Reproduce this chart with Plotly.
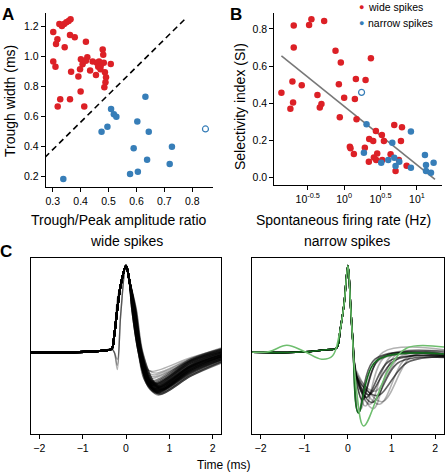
import numpy as np
import plotly.graph_objects as go

# ---------------- Panel A data ----------------
A_WIDE_RATIO = [0.302, 0.324, 0.333, 0.341, 0.349, 0.357, 0.364, 0.317, 0.312, 0.362, 0.379, 0.343,
                0.419, 0.302, 0.310, 0.366, 0.392, 0.401, 0.407, 0.398, 0.424, 0.419, 0.434, 0.443,
                0.458, 0.466, 0.463, 0.455, 0.471, 0.479, 0.481, 0.483, 0.487, 0.491, 0.489, 0.485,
                0.508, 0.472, 0.400, 0.327, 0.362, 0.318, 0.413]
A_WIDE_WIDTH = [1.164, 1.218, 1.205, 1.218, 1.229, 1.238, 1.249, 1.116, 1.084, 1.144, 1.129, 1.062,
                1.100, 0.967, 0.933, 0.900, 0.867, 0.982, 0.949, 0.916, 0.996, 0.973, 0.907, 0.967,
                0.960, 0.967, 0.933, 0.878, 0.916, 1.047, 1.013, 0.960, 0.896, 0.862, 0.829, 0.796,
                0.951, 0.940, 0.767, 0.716, 0.716, 0.667, 0.667]
A_NARROW_RATIO = [0.509, 0.519, 0.528, 0.496, 0.475, 0.603, 0.644, 0.632, 0.590, 0.727, 0.638,
                  0.719, 0.605, 0.577, 0.338]
A_NARROW_WIDTH = [0.651, 0.616, 0.600, 0.533, 0.500, 0.567, 0.500, 0.733, 0.389, 0.400, 0.313,
                  0.284, 0.233, 0.218, 0.184]
A_OPEN_RATIO = [0.847]
A_OPEN_WIDTH = [0.518]
A_DIVIDER_X = [0.272, 0.774]
A_DIVIDER_Y = [0.328, 1.251]

# ---------------- Panel B data ----------------
B_WIDE_LOGRATE = [-0.862, -0.739, -0.702, -0.711, -0.583, -0.693, -0.693, -0.482, -0.450, -0.275,
                  -0.367, -0.312, -0.335, -0.119, -0.046, -0.073, 0.000, -0.060, 0.161, 0.147,
                  0.170, 0.294, 0.367, 0.078, 0.087, 0.133, 0.284, 0.344, 0.399, 0.436, 0.518,
                  0.546, 0.339, 0.408, 0.454, 0.440, 0.523, 0.638, 0.688, 0.706, 0.794, 0.780,
                  0.752, 0.858]
B_WIDE_SI = [0.457, 0.371, 0.404, 0.517, 0.497, 0.700, 0.818, 0.821, 0.852, 0.843,
             0.445, 0.396, 0.377, 0.683, 0.619, 0.502, 0.430, 0.325, 0.531, 0.423,
             0.314, 0.526, 0.642, 0.167, 0.158, 0.127, 0.161, 0.208, 0.197, 0.251, 0.230,
             0.197, 0.086, 0.109, 0.131, 0.095, 0.095, 0.126, 0.283, 0.036, 0.271, 0.197,
             0.095, 0.065]
B_NARROW_LOGRATE = [0.307, 0.271, 0.509, 0.661, 0.688, 0.706, 0.606, 0.757, 0.917, 0.917,
                    1.110, 1.124, 1.124, 1.193, 1.229]
B_NARROW_SI = [0.287, 0.135, 0.081, 0.188, 0.108, 0.063, 0.095, 0.086, 0.248, 0.054,
               0.122, 0.068, 0.036, 0.027, 0.081]
B_OPEN_LOGRATE = [0.239]
B_OPEN_SI = [0.459]
B_FIT_LOGRATE = [-0.862, 1.248]
B_FIT_SI = [0.655, -0.009]

# ---------------- Panel C data (waveform landmarks, ms / normalised amplitude) ----------------
WIDE_TROUGH_T = [0.62, 0.65, 0.68, 0.70, 0.72, 0.74, 0.66, 0.70, 0.75, 0.78, 0.80, 0.68, 0.72, 0.76, 0.64,
                 0.70, 0.73, 0.77, 0.82, 0.69, 0.71, 0.74, 0.67, 0.79, 0.84, 0.63, 0.71, 0.75, 0.70, 0.73]
WIDE_TROUGH_V = [-0.38, -0.42, -0.45, -0.47, -0.44, -0.40, -0.36, -0.43, -0.46, -0.48, -0.42, -0.39, -0.41,
                 -0.44, -0.35, -0.37, -0.45, -0.47, -0.40, -0.43, -0.46, -0.38, -0.41, -0.44, -0.43, -0.33,
                 -0.39, -0.49, -0.42, -0.36]
WIDE_V15 = [-0.12, -0.16, -0.20, -0.24, -0.20, -0.15, -0.10, -0.18, -0.22, -0.27, -0.17, -0.13, -0.16, -0.21,
            -0.09, -0.11, -0.23, -0.25, -0.15, -0.19, -0.22, -0.12, -0.16, -0.20, -0.18, -0.08, -0.14, -0.27,
            -0.17, -0.10]
WIDE_END = [0.00, -0.03, -0.06, -0.09, -0.05, -0.02, 0.02, -0.05, -0.08, -0.12, -0.04, 0.00, -0.03, -0.07,
            0.03, 0.01, -0.08, -0.10, -0.02, -0.05, -0.08, 0.00, -0.03, -0.06, -0.05, 0.04, -0.01, -0.11,
            -0.04, 0.01]
WIDE_ZERO_T = [0.29, 0.30, 0.32, 0.33, 0.34, 0.33, 0.30, 0.32, 0.34, 0.36, 0.35, 0.31, 0.33, 0.35, 0.29,
               0.31, 0.33, 0.35, 0.37, 0.32, 0.33, 0.34, 0.31, 0.36, 0.38, 0.29, 0.32, 0.35, 0.32, 0.33]
WIDE_PRE = [0.50] * 30
WIDE_LIGHT_TROUGH_T = [0.62, 0.66, 0.60, 0.70, 0.64]
WIDE_LIGHT_TROUGH_V = [-0.22, -0.26, -0.30, -0.24, -0.28]
WIDE_LIGHT_V15 = [-0.06, -0.08, -0.10, -0.07, -0.09]
WIDE_LIGHT_END = [0.04, 0.03, 0.02, 0.05, 0.03]
WIDE_LIGHT_ZERO_T = [0.30, 0.31, 0.29, 0.32, 0.30]
WIDE_LIGHT_PRE = [-0.20, -0.15, 0.50, -0.08, 0.62]

NARROW_TROUGH_T = [0.24, 0.28, 0.33, 0.36, 0.40, 0.42, 0.47, 0.50, 0.55, 0.58, 0.62, 0.66, 0.72, 0.78]
NARROW_TROUGH_V = [-0.70, -0.66, -0.55, -0.47, -0.62, -0.52, -0.49, -0.60, -0.58, -0.65, -0.45, -0.50, -0.60, -0.57]
NARROW_MID = [None, None, -0.35, -0.30, -0.35, -0.30, -0.28, -0.30, -0.28, -0.30, -0.25, -0.28, -0.25, -0.22]
NARROW_REC_T = [0.62, 0.70, 0.75, 0.80, 0.85, 0.95, 1.05, 1.00, 1.15, 1.10, 1.20, 1.35, 1.35, 1.45]
NARROW_REC_V = [-0.08, -0.10, -0.06, 0.00, -0.05, -0.10, -0.10, -0.04, -0.12, -0.03, -0.05, -0.12, -0.06, -0.05]
NARROW_END = [-0.02, -0.03, -0.04, 0.03, 0.01, -0.05, -0.04, 0.00, -0.06, -0.02, 0.02, -0.05, -0.03, 0.00]
NARROW_DARK = [True, False, True, False, False, True, True, False, True, False, False, True, False, False]

GREEN_T = [-2.2, -1.8, -1.4, -1.0, -0.6, -0.35, -0.2, -0.09, 0.0, 0.065, 0.2, 0.36, 0.93, 1.35, 2.2]
GREEN_V = [0.0, 0.01, 0.08, 0.01, -0.08, -0.04, 0.2, 0.55, 1.0, 0.5, -0.45, -0.85, -0.2, 0.05, 0.06]
DKGREEN_TROUGH = (0.24, -0.70, 0.65, -0.10, -0.02)

RED = "rgb(220,32,38)"
BLUE = "rgb(55,126,184)"
FONT = "Arial, Liberation Sans, Helvetica, sans-serif"
W, H = 445, 476


def px(x):
    return x / W


def py(y):
    return 1 - y / H


fig = go.Figure()

# ---------------- Panel A ----------------
fig.add_trace(go.Scatter(x=A_DIVIDER_X, y=A_DIVIDER_Y, mode="lines",
                         line=dict(color="black", width=1.6, dash="6px,4px"),
                         xaxis="x", yaxis="y", showlegend=False, hoverinfo="skip"))
fig.add_trace(go.Scatter(x=A_WIDE_RATIO, y=A_WIDE_WIDTH, mode="markers",
                         marker=dict(color=RED, size=6.5), xaxis="x", yaxis="y", showlegend=False))
fig.add_trace(go.Scatter(x=A_NARROW_RATIO, y=A_NARROW_WIDTH, mode="markers",
                         marker=dict(color=BLUE, size=6.5), xaxis="x", yaxis="y", showlegend=False))
fig.add_trace(go.Scatter(x=A_OPEN_RATIO, y=A_OPEN_WIDTH, mode="markers",
                         marker=dict(color=BLUE, size=6, symbol="circle-open", line=dict(width=1.2)),
                         xaxis="x", yaxis="y", showlegend=False))

# ---------------- Panel B ----------------
fig.add_trace(go.Scatter(x=[10 ** v for v in B_FIT_LOGRATE], y=B_FIT_SI, mode="lines",
                         line=dict(color="rgb(120,120,120)", width=1.6),
                         xaxis="x2", yaxis="y2", showlegend=False, hoverinfo="skip"))
fig.add_trace(go.Scatter(x=[10 ** v for v in B_WIDE_LOGRATE], y=B_WIDE_SI, mode="markers",
                         marker=dict(color=RED, size=6.5), xaxis="x2", yaxis="y2", showlegend=False))
fig.add_trace(go.Scatter(x=[10 ** v for v in B_NARROW_LOGRATE], y=B_NARROW_SI, mode="markers",
                         marker=dict(color=BLUE, size=6.5), xaxis="x2", yaxis="y2", showlegend=False))
fig.add_trace(go.Scatter(x=[10 ** v for v in B_OPEN_LOGRATE], y=B_OPEN_SI, mode="markers",
                         marker=dict(color=BLUE, size=6, symbol="circle-open", line=dict(width=1.2)),
                         xaxis="x2", yaxis="y2", showlegend=False))


# ---------------- Panel C ----------------
def wide_knots(tt, tv, v15, ve, pre, tz):
    dip = pre < 0.2
    xs = [-2.2, -1.2, -0.5, -0.33, -0.27, -0.2, -0.12, 0.0, 0.08, tz - 0.15, tz, tt - 0.18, tt, 1.5, 2.2]
    ys = [0.0, 0.0, 0.02, 0.04, 0.0 if dip else 0.2, pre, 0.45 if dip else 0.78, 1.0, 0.82, 0.5, 0.0,
          0.85 * tv, tv, v15, ve]
    return xs, ys


def narrow_knots(tt, tv, mid, rt, rv, ve):
    xs = [-2.2, -1.2, -0.5, -0.26, -0.18, -0.09, 0.0, 0.065, 0.11]
    ys = [0.0, 0.0, 0.03, 0.05, 0.25, 0.55, 1.0, 0.5, 0.15]
    if mid is not None:
        xs.append(0.2)
        ys.append(mid)
    xs += [tt, rt, 2.2]
    ys += [tv, rv, ve]
    return xs, ys


for i in range(len(WIDE_LIGHT_TROUGH_T)):
    xs, ys = wide_knots(WIDE_LIGHT_TROUGH_T[i], WIDE_LIGHT_TROUGH_V[i], WIDE_LIGHT_V15[i],
                        WIDE_LIGHT_END[i], WIDE_LIGHT_PRE[i], WIDE_LIGHT_ZERO_T[i])
    fig.add_trace(go.Scatter(x=xs, y=ys, mode="lines", line=dict(color="rgba(0,0,0,0.3)", width=1.4,
                                                                 shape="spline", smoothing=1.0),
                             xaxis="x3", yaxis="y3", showlegend=False, hoverinfo="skip"))
for i in range(len(WIDE_TROUGH_T)):
    xs, ys = wide_knots(WIDE_TROUGH_T[i], WIDE_TROUGH_V[i], WIDE_V15[i], WIDE_END[i], WIDE_PRE[i],
                        WIDE_ZERO_T[i])
    fig.add_trace(go.Scatter(x=xs, y=ys, mode="lines", line=dict(color="rgba(0,0,0,0.5)", width=2.0,
                                                                 shape="spline", smoothing=1.0),
                             xaxis="x3", yaxis="y3", showlegend=False, hoverinfo="skip"))

for i in range(len(NARROW_TROUGH_T)):
    xs, ys = narrow_knots(NARROW_TROUGH_T[i], NARROW_TROUGH_V[i], NARROW_MID[i], NARROW_REC_T[i],
                          NARROW_REC_V[i], NARROW_END[i])
    col = "rgba(0,0,0,0.62)" if NARROW_DARK[i] else "rgba(0,0,0,0.3)"
    fig.add_trace(go.Scatter(x=xs, y=ys, mode="lines", line=dict(color=col, width=1.6,
                                                                 shape="spline", smoothing=1.0),
                             xaxis="x4", yaxis="y4", showlegend=False, hoverinfo="skip"))
xs, ys = narrow_knots(DKGREEN_TROUGH[0], DKGREEN_TROUGH[1], None, DKGREEN_TROUGH[2], DKGREEN_TROUGH[3],
                      DKGREEN_TROUGH[4])
fig.add_trace(go.Scatter(x=xs, y=ys, mode="lines", line=dict(color="rgb(20,110,30)", width=1.6,
                                                             shape="spline", smoothing=1.0),
                         xaxis="x4", yaxis="y4", showlegend=False, hoverinfo="skip"))
fig.add_trace(go.Scatter(x=GREEN_T, y=GREEN_V, mode="lines", line=dict(color="rgb(110,190,110)", width=1.5,
                                                                   shape="spline", smoothing=1.0),
                         xaxis="x4", yaxis="y4", showlegend=False, hoverinfo="skip"))

# ---------------- Axes ----------------
tickfont = dict(family=FONT, size=10.5, color="black")
base = dict(showgrid=False, zeroline=False, showline=True, linecolor="black", linewidth=1,
            ticks="outside", ticklen=4, tickwidth=1, tickcolor="black", tickfont=tickfont)

fig.update_layout(
    width=W, height=H, margin=dict(l=0, r=0, t=0, b=0), autosize=False,
    paper_bgcolor="white", plot_bgcolor="white", showlegend=False,
    font=dict(family=FONT, color="black"),
    xaxis=dict(base, domain=[px(45.7), px(213)], range=[0.275, 0.874],
               tickvals=[0.3, 0.4, 0.5, 0.6, 0.7, 0.8], anchor="y"),
    yaxis=dict(base, domain=[py(187), py(12.7)], range=[0.131, 1.293],
               tickvals=[0.2, 0.4, 0.6, 0.8, 1.0, 1.2], tickformat=".1f", anchor="x"),
    xaxis2=dict(base, domain=[px(274.3), px(441.7)], type="log", range=[-0.96, 1.34],
                tickvals=[10 ** -0.5, 1, 10 ** 0.5, 10],
                ticktext=["10<sup>-0.5</sup>", "10<sup>0</sup>", "10<sup>0.5</sup>", "10<sup>1</sup>"],
                anchor="y2"),
    yaxis2=dict(base, domain=[py(185), py(13.3)], range=[-0.039, 0.884],
                tickvals=[0.0, 0.2, 0.4, 0.6, 0.8], tickformat=".1f", anchor="x2"),
    xaxis3=dict(base, domain=[px(31), px(221)], range=[-2.19, 2.19], mirror=True,
                tickvals=[-2, -1, 0, 1, 2], anchor="y3"),
    yaxis3=dict(showgrid=False, zeroline=False, showline=True, linecolor="black", linewidth=1,
                mirror=True, showticklabels=False, ticks="",
                domain=[py(434), py(258.3)], range=[-0.943, 1.085], anchor="x3"),
    xaxis4=dict(base, domain=[px(252.3), px(444)], range=[-2.19, 2.2], mirror=True,
                tickvals=[-2, -1, 0, 1, 2], anchor="y4"),
    yaxis4=dict(showgrid=False, zeroline=False, showline=True, linecolor="black", linewidth=1,
                mirror=True, showticklabels=False, ticks="",
                domain=[py(434), py(258.3)], range=[-0.943, 1.085], anchor="x4"),
)


def ann(text, x, y, size=14, bold=False, angle=0, xanchor="center", color="black"):
    fig.add_annotation(text=f"<b>{text}</b>" if bold else text, x=px(x), y=py(y), xref="paper",
                       yref="paper", showarrow=False, textangle=angle, xanchor=xanchor, yanchor="middle",
                       font=dict(family=FONT, size=size, color=color))


ann("A", 8, 14, size=17, bold=True)
ann("B", 236, 14, size=17, bold=True)
ann("C", 6, 251, size=17, bold=True)
ann("Trough width (ms)", 10, 101, angle=-90)
ann("Trough/Peak amplitude ratio", 118.5, 220)
ann("Selectivity index (SI)", 240, 107, angle=-90)
ann("Spontaneous firing rate (Hz)", 343, 220)
ann("wide spikes", 126.5, 241)
ann("narrow spikes", 346.5, 241)
ann("Time (ms)", 224.5, 465, size=12)
ann("●", 361, 7, size=9, color=RED)
ann("wide spikes", 366, 7, size=10.5, xanchor="left")
ann("●", 361, 22.5, size=9, color=BLUE)
ann("narrow spikes", 366, 22.5, size=10.5, xanchor="left")

fig.write_html("out.html", config={"displayModeBar": False},
               post_script="document.body.style.margin='0';document.body.style.padding='0';")
